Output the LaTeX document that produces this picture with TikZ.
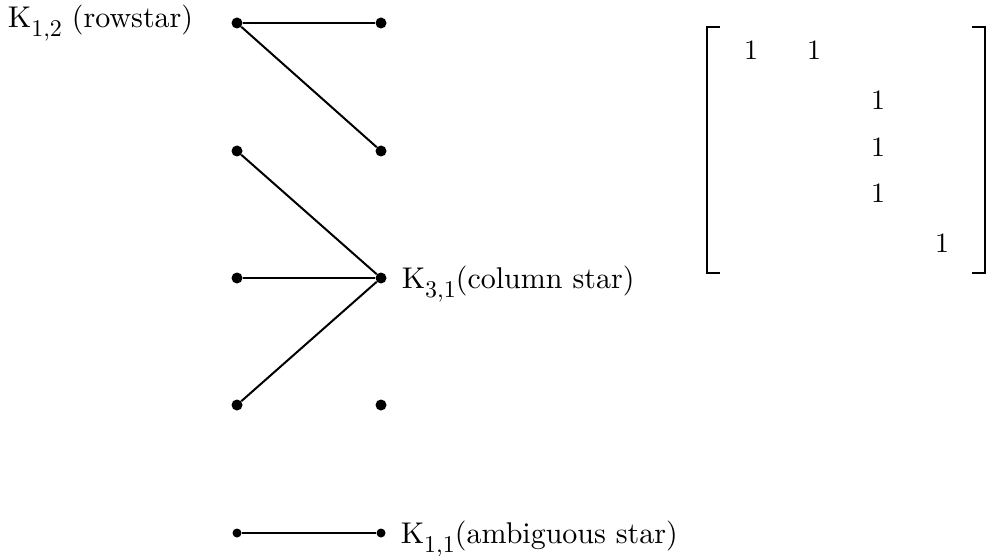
\documentclass[tikz,border=0pt]{standalone}
\usepackage{fontspec}
\setmainfont{lmroman10-regular.otf}
\usepackage{tikz}
\usetikzlibrary{positioning}
\newcommand{\Ksub}[1]{K\lower9pt\hbox{\fontsize{24}{28}\selectfont #1}}

\begin{document}
\begin{tikzpicture}[
    x=1pt, y=-1pt,
    vtx/.style={circle, fill, inner sep=0pt, minimum size=11pt},
    edge/.style={line width=2pt},
    lbl/.style={font=\fontsize{30}{36}\selectfont, inner sep=0pt},
    entry/.style={font=\fontsize{28}{34}\selectfont, inner sep=0pt},
    brack/.style={line width=2.4pt}
  ]
    \useasboundingbox (0,0) rectangle (992,556);
    % rows (left) and columns (right)
    \node[vtx] (u1) at (237,23) {};
    \node[vtx] (u2) at (237,151) {};
    \node[vtx] (u3) at (237,278) {};
    \node[vtx] (u4) at (237,405) {};
    \node[vtx, minimum size=9pt] (u5) at (237,533) {};
    \node[vtx] (w1) at (381,23) {};
    \node[vtx] (w2) at (381,151) {};
    \node[vtx] (w3) at (381,278) {};
    \node[vtx] (w4) at (381,405) {};
    \node[vtx, minimum size=9pt] (w5) at (381,533) {};
    \draw[edge] (u1) -- (w1);
    \draw[edge] (u1) -- (w2);
    \draw[edge] (u2) -- (w3);
    \draw[edge] (u3) -- (w3);
    \draw[edge] (u4) -- (w3);
    \draw[edge] (u5) -- (w5);
    \node[lbl, left=38pt of u1, anchor=base east, yshift=-5pt] (rowstar) {\Ksub{1,2} (rowstar)};
    \node[lbl, right=15pt of w3, anchor=base west, yshift=-10pt] (colstar) {\Ksub{3,1}(column star)};
    \node[lbl, right=15pt of w5, anchor=base west, yshift=-10pt] (ambstar) {\Ksub{1,1}(ambiguous star)};
    % incidence matrix
    \draw[brack] (720,27) -- (707,27) -- (707,273) -- (720,273);
    \draw[brack] (972,27) -- (985,27) -- (985,273) -- (972,273);
    \node[entry] (m11) at (751,50) {1};
    \node[entry] (m12) at (814,50) {1};
    \node[entry] (m23) at (878,100) {1};
    \node[entry] (m33) at (878,147) {1};
    \node[entry] (m43) at (878,193) {1};
    \node[entry] (m54) at (942,243) {1};
  \end{tikzpicture}
\end{document}
